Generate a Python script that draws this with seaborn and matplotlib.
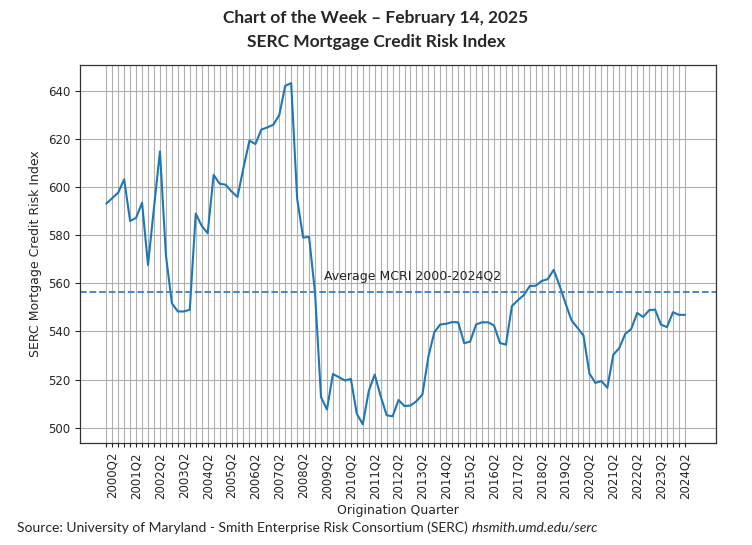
import numpy as np
import pandas as pd
import seaborn as sns
import matplotlib.pyplot as plt

# quarterly index values, 2000Q1 .. 2024Q2
mcri = [593.1, 595.4, 597.7, 603.2, 585.9, 587.2, 593.5, 567.6, 591.5, 614.8,
        571.7, 551.7, 548.3, 548.3, 549.0, 589.0, 583.9, 580.8, 605.1, 601.4,
        601.0, 598.2, 595.9, 608.0, 619.3, 617.9, 623.9, 624.8, 625.9, 629.9,
        642.1, 643.2, 595.2, 579.0, 579.3, 556.0, 512.7, 507.6, 522.3, 521.0,
        519.6, 520.3, 505.8, 501.4, 515.2, 522.1, 513.1, 505.2, 504.7, 511.5,
        509.0, 509.2, 511.0, 513.8, 529.5, 539.7, 542.9, 543.2, 543.9, 543.8,
        535.1, 535.8, 542.9, 543.8, 543.8, 542.5, 535.2, 534.5, 550.5, 553.0,
        555.1, 558.9, 559.0, 561.0, 561.7, 565.6, 559.0, 551.6, 544.6, 541.5,
        538.3, 522.5, 518.6, 519.4, 516.6, 530.3, 533.1, 539.0, 541.0, 547.7,
        546.0, 548.8, 549.1, 542.8, 541.8, 548.0, 546.9, 546.9]
quarters = [f"{2000 + i // 4}Q{i % 4 + 1}" for i in range(len(mcri))]
avg_mcri = 556.4
avg_label = "Average MCRI 2000-2024Q2"

df = pd.DataFrame({"idx": range(len(mcri)), "quarter": quarters, "mcri": mcri})

sns.set_style("ticks")
plt.rcParams['font.family'] = ['DejaVu Sans']

fig = plt.figure(figsize=(7.52, 5.45), dpi=100)
ax = fig.add_axes([0.1064, 0.187, 0.8456, 0.694])

sns.lineplot(data=df, x="idx", y="mcri", color="#1f77b4", linewidth=1.5, ax=ax)
ax.axhline(avg_mcri, color="#3a80c0", linestyle="--", linewidth=1.3)
ax.text(36.5, 561.5, avg_label, fontsize=9, color="#222222")

labels = [q if q.endswith("Q2") else "" for q in quarters]
ax.set_xticks(df["idx"])
ax.set_xticklabels(labels, rotation=90, fontsize=8.5)
ax.tick_params(axis="x", length=3, width=0.8)
ax.tick_params(axis="y", labelsize=8.5)
ax.set_yticks([500, 520, 540, 560, 580, 600, 620, 640])
ax.set_xlim(-4.4, 102.2)
ax.set_ylim(493.6, 650.8)
ax.grid(True, color="#b0b0b0", linewidth=0.8)
for s in ax.spines.values():
    s.set_color("#333333")
    s.set_linewidth(0.9)

ax.set_xlabel("Origination Quarter", fontsize=9)
ax.set_ylabel("SERC Mortgage Credit Risk Index", fontsize=9)

fig.text(0.5, 0.967, "Chart of the Week \u2013 February 14, 2025", ha="center", va="center",
         fontsize=12.5, fontweight="bold", family="Lato")
fig.text(0.5, 0.923, "SERC Mortgage Credit Risk Index", ha="center", va="center",
         fontsize=12.5, fontweight="bold", family="Lato")

src = fig.text(0.023, 0.032, "Source: University of Maryland - Smith Enterprise Risk Consortium (SERC) ",
               fontsize=10, family="Lato", va="center")
fig.canvas.draw()
ax.annotate("rhsmith.umd.edu/serc", xy=(1, 0.5), xycoords=src, va="center",
            fontsize=10, family="Lato", style="italic", annotation_clip=False)

fig.savefig("out.png", dpi=100)
